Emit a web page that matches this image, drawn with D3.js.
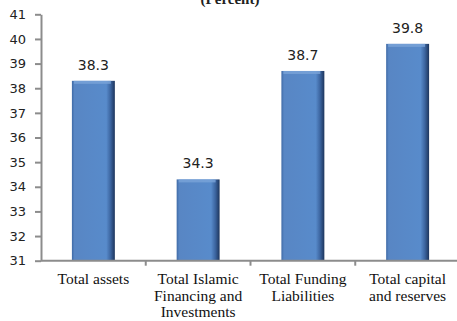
<!DOCTYPE html>
<html><head><meta charset="utf-8">
<script src="https://cdn.jsdelivr.net/npm/d3@7"></script>
<style>body{margin:0;background:#fff}svg{display:block}</style>
</head><body>
<script>
const categories = [["Total assets"], ["Total Islamic","Financing and","Investments"], ["Total Funding","Liabilities"], ["Total capital","and reserves"]];
const values = [38.3, 34.3, 38.7, 39.8];
const yTicks = [31,32,33,34,35,36,37,38,39,40,41];
const title = "(Percent)";

const W = 457, H = 321;
const svg = d3.select("body").append("svg").attr("width", W).attr("height", H);
const defs = svg.append("defs");
const g1 = defs.append("linearGradient").attr("id","barg").attr("x1","0").attr("x2","1").attr("y1","0").attr("y2","0");
g1.append("stop").attr("offset","0").attr("stop-color","#3f6aa6");
g1.append("stop").attr("offset","0.06").attr("stop-color","#5886c4");
g1.append("stop").attr("offset","0.8").attr("stop-color","#588bcb");
g1.append("stop").attr("offset","0.9").attr("stop-color","#3c65a0");
g1.append("stop").attr("offset","1").attr("stop-color","#1d355c");

const x = d3.scaleBand().domain(d3.range(categories.length)).range([41, 460]).paddingInner(0.59).paddingOuter(0.295);
const y = d3.scaleLinear().domain([31, 41]).range([260.7, 14.3]);

svg.append("text").attr("x", 230).attr("y", 4).attr("text-anchor","middle")
  .attr("font-family","Liberation Serif").attr("font-weight","bold").attr("font-size",15).attr("fill","#222").text(title);

// bars
const bars = svg.append("g").selectAll("g").data(values).join("g");
bars.append("rect").attr("x",(d,i)=>x(i)).attr("y",d=>y(d)).attr("width",x.bandwidth()).attr("height",d=>y(31)-y(d))
  .attr("fill","url(#barg)");
bars.append("rect").attr("x",(d,i)=>x(i)+2).attr("y",d=>y(d)).attr("width",x.bandwidth()-6).attr("height",3)
  .attr("fill","#7aa4d8").attr("opacity",0.8);
bars.append("text").attr("x",(d,i)=>x(i)+x.bandwidth()/2).attr("y",d=>y(d)-11).attr("text-anchor","middle")
  .attr("font-family","DejaVu Sans").attr("font-size",14).attr("fill","#222").text(d=>d.toFixed(1));

// y axis
const ya = svg.append("g").attr("transform","translate(41,0)")
  .call(d3.axisLeft(y).tickValues(yTicks).tickSize(6).tickSizeOuter(0).tickFormat(d3.format("d")));
ya.select(".domain").attr("stroke","#8c8c8c").attr("stroke-width",2);
ya.selectAll(".tick line").attr("stroke","#8c8c8c").attr("stroke-width",2);
ya.selectAll(".tick text").attr("font-family","DejaVu Sans").attr("font-size",13).attr("fill","#222").attr("x",-15);

// x axis
svg.append("line").attr("x1",41).attr("x2",457).attr("y1",y(31)).attr("y2",y(31)).attr("stroke","#8c8c8c").attr("stroke-width",2);
const step = x.step();
svg.append("g").selectAll("line").data(d3.range(1,categories.length)).join("line")
  .attr("x1",i=>41+i*step).attr("x2",i=>41+i*step).attr("y1",y(31)).attr("y2",y(31)+5)
  .attr("stroke","#8c8c8c").attr("stroke-width",2);

const labs = svg.append("g").selectAll("text").data(categories).join("text")
  .attr("x",(d,i)=>x(i)+x.bandwidth()/2).attr("y",284).attr("text-anchor","middle")
  .attr("font-family","Liberation Serif").attr("font-size",15.5).attr("fill","#111");
labs.selectAll("tspan").data(d=>d).join("tspan").attr("x",function(){return this.parentNode.getAttribute("x");})
  .attr("dy",(d,i)=>i===0?0:16.5).text(d=>d);
</script>
</body></html>
